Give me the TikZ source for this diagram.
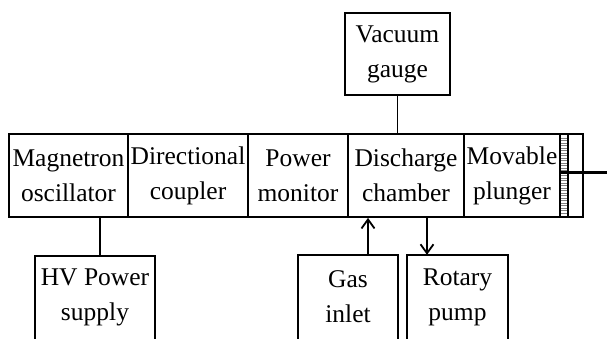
\documentclass[tikz,border=0pt]{standalone}
\usepackage{fontspec}
\setmainfont{Liberation Serif}
\usetikzlibrary{arrows.meta}
\begin{document}
\begin{tikzpicture}[x=1pt,y=-1pt,
  box/.style={draw,line width=1.8pt,rectangle,inner sep=0pt,align=center,
    font=\fontsize{25.5}{35}\selectfont},
  open/.style={inner sep=0pt,align=center,font=\fontsize{25.5}{35}\selectfont},
  side/.style={line width=1.8pt},
  conn/.style={line width=1.8pt},
  arr/.style={line width=1.8pt,-{Straight Barb[length=9pt,width=13pt,line width=1.8pt]}}]
\useasboundingbox (0,0) rectangle (607,339);
% main row
\node[box,minimum width=119pt,minimum height=83pt] (mag) at (68.5,175.5) {Magnetron\\oscillator};
\node[box,minimum width=120pt,minimum height=83pt] (dir) at (188,175.5) {Directional\\coupler};
\node[box,minimum width=100pt,minimum height=83pt] (pow) at (298,175.5) {Power\\monitor};
\node[box,minimum width=116pt,minimum height=83pt] (dis) at (406,175.5) {Discharge\\chamber};
\node[box,minimum width=96pt,minimum height=83pt] (mov) at (512,175.5) {Movable\\plunger};
\node[box,minimum width=15pt,minimum height=83pt] (endb) at (575.5,175.5) {};
% plunger strip with hatching
\node[box,minimum width=8pt,minimum height=83pt] (strip) at (564,175.5) {};
\foreach \yy in {138,140.5,...,214} {
  \draw[line width=0.5pt,gray] (561,\yy) -- (567,\yy);
}
\coordinate (rodend) at (607,173);
\draw[line width=3pt] (strip.west |- rodend) -- (rodend);
% vacuum gauge
\node[box,minimum width=105pt,minimum height=82pt] (vac) at (397.5,54) {Vacuum\\gauge};
\draw[conn] (vac.south) -- (vac.south |- dis.north);
% bottom open boxes
\node[open,minimum width=120pt,minimum height=83pt] (hv) at (95,297.5) {HV Power\\supply};
\node[open,minimum width=100pt,minimum height=84pt] (gas) at (348,297) {Gas\\inlet};
\node[open,minimum width=101pt,minimum height=84pt] (rot) at (457.5,297) {Rotary\\pump};
\foreach \n in {hv,gas,rot} {
  \draw[side] (\n.south west) |- (\n.north east) -- (\n.south east);
}
\draw[conn] ([xshift=5pt]hv.north) -- ([xshift=5pt]hv.north |- mag.south);
\draw[arr] ([xshift=20pt]gas.north) -- ([xshift=20pt]gas.north |- dis.south);
\draw[arr] ([xshift=-30.5pt]rot.north |- dis.south) -- ([xshift=-30.5pt]rot.north);
\end{tikzpicture}
\end{document}
